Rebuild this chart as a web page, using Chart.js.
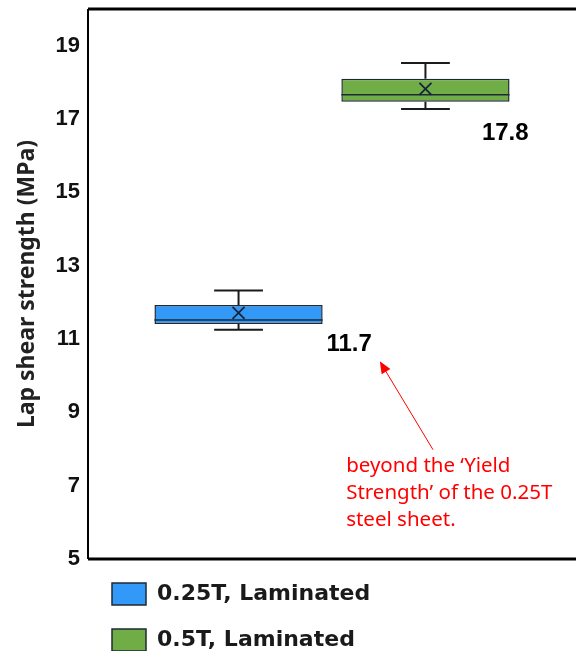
<!DOCTYPE html>
<html>
<head>
<meta charset="utf-8">
<script src="https://cdn.jsdelivr.net/npm/chart.js@4/dist/chart.umd.min.js"></script>
<style>
  html, body { margin: 0; padding: 0; background: #fff; }
  #wrap { width: 576px; height: 651px; }
</style>
</head>
<body>
<div id="wrap"><canvas id="boxChart"></canvas></div>
<script>
// box plot stats per series
const seriesNames = ['0.25T, Laminated', '0.5T, Laminated'];
const mins    = [11.25, 17.27];
const q1s     = [11.41, 17.47];
const medians = [11.52, 17.66];
const q3s     = [11.93, 18.10];
const maxs    = [12.32, 18.53];
const means   = [11.71, 17.82];
const fills   = ['#3399f8', '#70ad47'];
const yTicks  = [5, 7, 9, 11, 13, 15, 17, 19];

// text notes: x as share of plot width, y in MPa
const valueLabels = [
  { text: '11.7', x: 0.535, y: 10.85 },
  { text: '17.8', x: 0.855, y: 16.6 }
];
const noteLines = ['beyond the \u2018Yield', 'Strength\u2019 of the 0.25T', 'steel sheet.'];
const notePos = { x: 0.529, y: [7.54, 6.80, 6.07] };
const arrow = { from: [0.707, 7.98], to: [0.598, 10.39] };

const boxExtras = {
  id: 'boxExtras',
  afterDatasetsDraw(chart) {
    const ctx = chart.ctx;
    const y = chart.scales.y;
    const area = chart.chartArea;
    const px = f => area.left + f * (area.right - area.left);
    ctx.save();
    chart.data.datasets.forEach((ds, i) => {
      const bar = chart.getDatasetMeta(i).data[0];
      if (!bar) return;
      const w = bar.width, cx = bar.x;
      const half = w / 2;
      const cap = w * 0.145;
      ctx.strokeStyle = '#1b1b1b';
      ctx.lineWidth = 2;
      ctx.beginPath();
      // whiskers
      ctx.moveTo(cx, y.getPixelForValue(q3s[i]));
      ctx.lineTo(cx, y.getPixelForValue(maxs[i]));
      ctx.moveTo(cx - cap, y.getPixelForValue(maxs[i]));
      ctx.lineTo(cx + cap, y.getPixelForValue(maxs[i]));
      ctx.moveTo(cx, y.getPixelForValue(q1s[i]));
      ctx.lineTo(cx, y.getPixelForValue(mins[i]));
      ctx.moveTo(cx - cap, y.getPixelForValue(mins[i]));
      ctx.lineTo(cx + cap, y.getPixelForValue(mins[i]));
      ctx.stroke();
      // median
      ctx.lineWidth = 1.6;
      ctx.strokeStyle = '#1e2a36';
      ctx.beginPath();
      ctx.moveTo(cx - half, y.getPixelForValue(medians[i]));
      ctx.lineTo(cx + half, y.getPixelForValue(medians[i]));
      ctx.stroke();
      // mean marker
      const my = y.getPixelForValue(means[i]);
      ctx.lineWidth = 1.8;
      ctx.strokeStyle = '#14243a';
      ctx.beginPath();
      ctx.moveTo(cx - 6, my - 6); ctx.lineTo(cx + 6, my + 6);
      ctx.moveTo(cx + 6, my - 6); ctx.lineTo(cx - 6, my + 6);
      ctx.stroke();
    });

    // value labels
    ctx.fillStyle = '#000';
    ctx.font = 'bold 24px "Liberation Sans", Arial, sans-serif';
    ctx.textAlign = 'center';
    ctx.textBaseline = 'middle';
    valueLabels.forEach(l => ctx.fillText(l.text, px(l.x), y.getPixelForValue(l.y)));

    // red note + arrow
    ctx.fillStyle = '#ff0000';
    ctx.font = '20.5px "Noto Sans", sans-serif';
    ctx.textAlign = 'left';
    noteLines.forEach((t, k) => ctx.fillText(t, px(notePos.x), y.getPixelForValue(notePos.y[k])));

    const x1 = px(arrow.from[0]), y1 = y.getPixelForValue(arrow.from[1]);
    const x2 = px(arrow.to[0]), y2 = y.getPixelForValue(arrow.to[1]);
    const ang = Math.atan2(y2 - y1, x2 - x1);
    const hl = 13;
    ctx.strokeStyle = '#ff0000';
    ctx.lineWidth = 1;
    ctx.beginPath();
    ctx.moveTo(x1, y1);
    ctx.lineTo(x2 - Math.cos(ang) * hl * 0.8, y2 - Math.sin(ang) * hl * 0.8);
    ctx.stroke();
    ctx.beginPath();
    ctx.moveTo(x2, y2);
    ctx.lineTo(x2 - hl * Math.cos(ang - 0.4), y2 - hl * Math.sin(ang - 0.4));
    ctx.lineTo(x2 - hl * Math.cos(ang + 0.4), y2 - hl * Math.sin(ang + 0.4));
    ctx.closePath();
    ctx.fill();

    // frame: top, left, bottom
    ctx.strokeStyle = '#000';
    ctx.lineWidth = 3;
    ctx.beginPath();
    ctx.moveTo(area.left, area.top); ctx.lineTo(chart.width, area.top);
    ctx.moveTo(area.left, area.bottom); ctx.lineTo(chart.width, area.bottom);
    ctx.stroke();
    ctx.lineWidth = 2;
    ctx.beginPath();
    ctx.moveTo(area.left, area.top); ctx.lineTo(area.left, area.bottom);
    ctx.stroke();
    ctx.restore();
  }
};

new Chart(document.getElementById('boxChart'), {
  type: 'bar',
  data: {
    labels: [''],
    datasets: seriesNames.map((name, i) => ({
      label: name,
      data: [[q1s[i], q3s[i]]],
      backgroundColor: fills[i],
      borderColor: '#1e2a36',
      borderWidth: 1.5,
      borderSkipped: false,
      categoryPercentage: 0.766,
      barPercentage: 0.9
    }))
  },
  options: {
    responsive: true,
    maintainAspectRatio: false,
    animation: false,
    layout: { padding: { top: 9, right: 0, left: 0, bottom: 0 } },
    plugins: {
      tooltip: { enabled: false },
      legend: {
        position: 'bottom',
        align: 'start',
        fullSize: false,
        maxHeight: 92,
        labels: {
          boxWidth: 34,
          boxHeight: 22,
          padding: 24,
          color: '#1a1a1a',
          font: { family: '"DejaVu Sans", sans-serif', size: 22, weight: 'bold' }
        }
      }
    },
    scales: {
      x: { display: false },
      y: {
        min: 5,
        max: 20,
        afterBuildTicks: s => { s.ticks = yTicks.map(v => ({ value: v })); },
        afterFit: s => { s.width = 88; s.paddingTop = 0; s.paddingBottom = 0; },
        grid: { display: false, drawTicks: false },
        border: { display: false },
        ticks: {
          color: '#111',
          padding: 8,
          font: { family: '"Liberation Sans", Arial, sans-serif', size: 22, weight: 'bold' }
        },
        title: {
          display: true,
          text: 'Lap shear strength (MPa)',
          color: '#222',
          padding: { top: 14, bottom: 0 },
          font: { family: '"Noto Sans", sans-serif', size: 23, weight: 'bold' }
        }
      }
    }
  },
  plugins: [boxExtras]
});
</script>
</body>
</html>
